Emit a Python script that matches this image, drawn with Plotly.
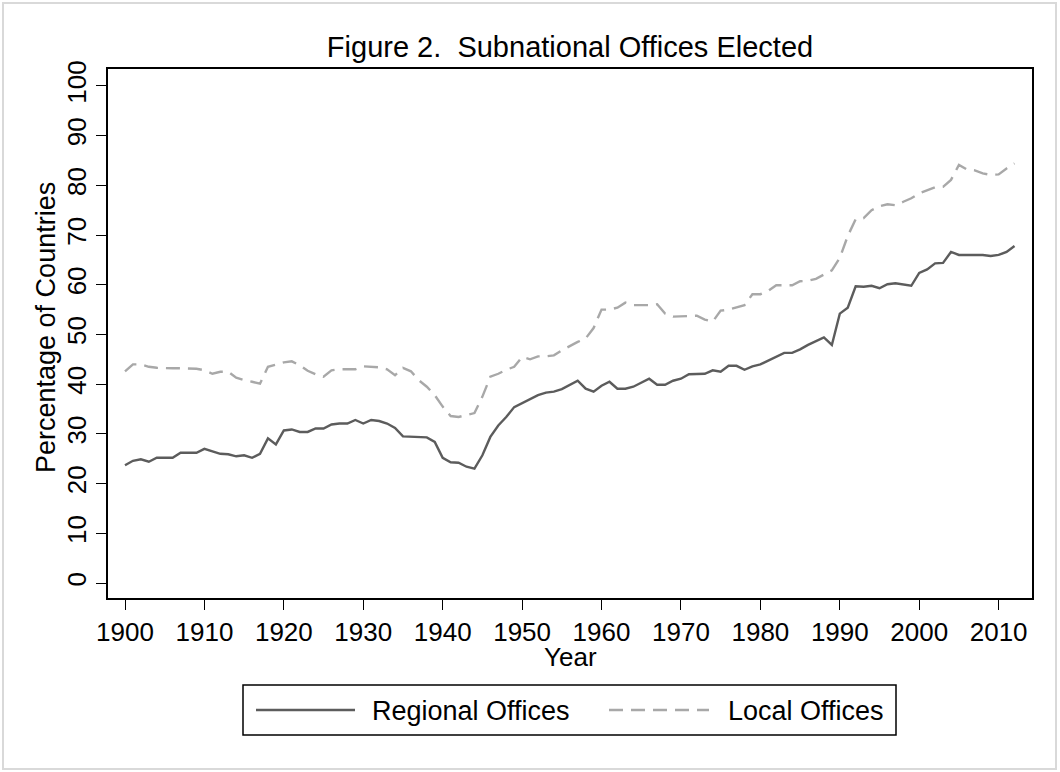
import plotly.graph_objects as go

years = list(range(1900, 2013))

regional = [
    23.7, 24.6, 24.9, 24.4, 25.2, 25.2, 25.2, 26.2, 26.2, 26.2,
    27.0, 26.5, 26.0, 25.9, 25.5, 25.7, 25.2, 26.0, 29.1, 27.9,
    30.7, 30.9, 30.4, 30.4, 31.1, 31.1, 31.9, 32.1, 32.1, 32.8,
    32.1, 32.8, 32.6, 32.1, 31.2, 29.5, 29.4, 29.4, 29.3, 28.4,
    25.2, 24.3, 24.2, 23.4, 23.0, 25.7, 29.4, 31.7, 33.4, 35.4,
    36.2, 36.9, 37.8, 38.3, 38.5, 39.0, 39.8, 40.7, 39.1, 38.5,
    39.7, 40.5, 39.1, 39.1, 39.5, 40.3, 41.1, 39.9, 39.9, 40.7,
    41.1, 42.0, 42.1, 42.1, 42.8, 42.5, 43.7, 43.7, 42.9, 43.6,
    44.0, 44.8, 45.6, 46.3, 46.3, 47.0, 47.9, 48.6, 49.4, 47.9,
    54.2, 55.4, 59.7, 59.6, 59.8, 59.3, 60.1, 60.3, 60.1, 59.8,
    62.4, 63.1, 64.3, 64.4, 66.6, 66.0, 66.0, 66.0, 66.0, 65.8,
    66.0, 66.6, 67.8,
]

local = [
    42.6, 44.0, 44.0, 43.5, 43.3, 43.2, 43.2, 43.2, 43.2, 43.1,
    42.8, 42.1, 42.5, 42.5, 41.3, 40.8, 40.5, 40.1, 43.5, 44.0,
    44.4, 44.6, 43.8, 42.7, 42.0, 41.5, 42.8, 43.0, 43.0, 43.0,
    43.6, 43.5, 43.4, 43.0, 41.8, 43.3, 42.6, 40.8, 39.5, 37.8,
    35.5, 33.6, 33.4, 33.8, 34.2, 37.5, 41.5, 42.1, 42.9, 43.5,
    45.5, 45.0, 45.6, 45.6, 45.8, 46.8, 47.7, 48.5, 49.2, 51.3,
    55.0, 55.0, 55.4, 56.4, 55.9, 55.9, 55.9, 56.1, 54.2, 53.6,
    53.6, 53.7, 53.8, 53.0, 52.6, 54.8, 55.0, 55.4, 55.9, 58.1,
    58.1, 58.8, 59.9, 59.9, 59.9, 60.7, 60.8, 61.2, 62.0, 62.9,
    65.4, 69.8, 73.2, 73.4, 75.0, 75.8, 76.2, 76.0, 76.7, 77.4,
    78.4, 79.0, 79.6, 79.7, 81.1, 84.1, 83.2, 83.0, 82.4, 82.1,
    82.2, 83.4, 84.4,
]

x_ticks = list(range(1900, 2011, 10))
y_ticks = list(range(0, 101, 10))

title_text = "Figure 2.&nbsp; Subnational Offices Elected"
x_title = "Year"
y_title = "Percentage of Countries"
series_names = ["Regional Offices", "Local Offices"]

FONT = "Liberation Sans, Arial, sans-serif"
C_REG = "#5c5c5c"
C_LOC = "#a8a8a8"
W, H = 1060, 772
L, R, T, B = 108, 1032, 69, 598
PW, PH = R - L, B - T


def px(xp):
    return (xp - L) / PW


def py(yp):
    return (B - yp) / PH


fig = go.Figure()
fig.add_trace(go.Scatter(x=years, y=regional, mode="lines", name=series_names[0],
                         line=dict(color=C_REG, width=2.4), showlegend=False))
fig.add_trace(go.Scatter(x=years, y=local, mode="lines", name=series_names[1],
                         line=dict(color=C_LOC, width=2.4, dash="14px,8px"), showlegend=False))

axis_common = dict(showgrid=False, zeroline=False, showline=True, linecolor="black",
                   linewidth=1.5, mirror=True, ticks="outside", ticklen=10,
                   tickwidth=1.2, tickcolor="black",
                   tickfont=dict(family=FONT, size=26, color="black"))

fig.update_xaxes(range=[1897.86, 2014.2], tickmode="array", tickvals=x_ticks, **axis_common)
fig.update_yaxes(range=[-3.0, 103.4], tickmode="array", tickvals=y_ticks, tickangle=-90,
                 **axis_common)

shapes = [
    # outer graph border
    dict(type="rect", xref="paper", yref="paper", x0=px(3), x1=px(1056), y0=py(3), y1=py(769),
         line=dict(color="#d9d9d9", width=2), fillcolor="rgba(0,0,0,0)", layer="below"),
    # legend box
    dict(type="rect", xref="paper", yref="paper", x0=px(243), x1=px(896), y0=py(685), y1=py(735),
         line=dict(color="black", width=1.5), fillcolor="white"),
    dict(type="line", xref="paper", yref="paper", x0=px(256), x1=px(355), y0=py(710), y1=py(710),
         line=dict(color=C_REG, width=2.4)),
    dict(type="line", xref="paper", yref="paper", x0=px(609), x1=px(709), y0=py(710), y1=py(710),
         line=dict(color=C_LOC, width=2.4, dash="14px,8px")),
]

annotations = [
    dict(text=x_title, xref="paper", yref="paper", x=px(570), y=py(657), showarrow=False,
         xanchor="center", yanchor="middle", font=dict(family=FONT, size=26, color="black")),
    dict(text=y_title, xref="paper", yref="paper", x=px(46), y=py(328), showarrow=False,
         textangle=-90, xanchor="center", yanchor="middle",
         font=dict(family=FONT, size=27, color="black")),
    dict(text=series_names[0], xref="paper", yref="paper", x=px(370), y=py(711), showarrow=False,
         xanchor="left", yanchor="middle", font=dict(family=FONT, size=27, color="black")),
    dict(text=series_names[1], xref="paper", yref="paper", x=px(726), y=py(711), showarrow=False,
         xanchor="left", yanchor="middle", font=dict(family=FONT, size=27, color="black")),
]

fig.update_layout(
    width=W, height=H,
    margin=dict(l=L, r=W - R, t=T, b=H - B, pad=0),
    paper_bgcolor="white", plot_bgcolor="white",
    title=dict(text=title_text, x=0.5, xref="paper", y=1 - 47 / H, yref="container",
               xanchor="center", yanchor="middle",
               font=dict(family=FONT, size=29, color="black")),
    shapes=shapes, annotations=annotations, showlegend=False,
)

fig.write_html("out.html", config={"displayModeBar": False},
               post_script="document.body.style.margin='0';")
